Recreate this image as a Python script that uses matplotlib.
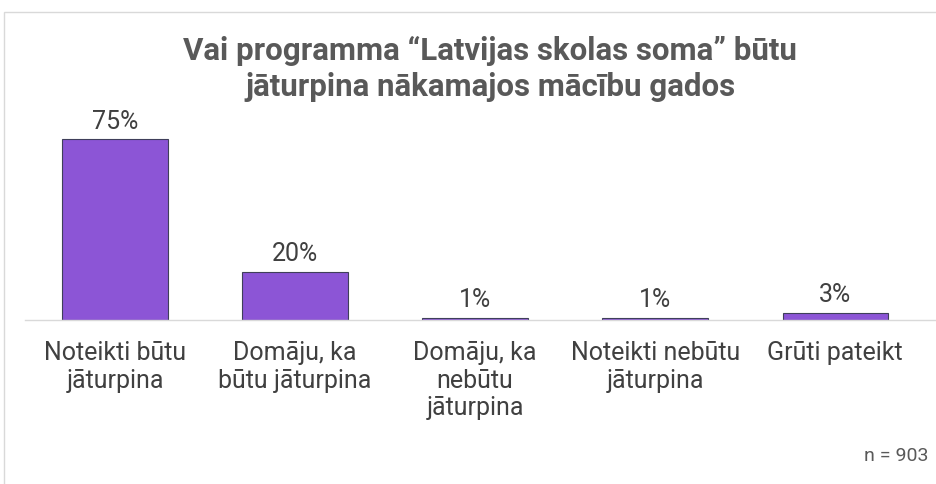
import matplotlib.pyplot as plt
from matplotlib.patches import Rectangle

categories = ["Noteikti būtu\njāturpina", "Domāju, ka\nbūtu jāturpina", "Domāju, ka\nnebūtu\njāturpina",
              "Noteikti nebūtu\njāturpina", "Grūti pateikt"]
values = [75, 20, 1, 1, 3]
labels = ["75%", "20%", "1%", "1%", "3%"]

plt.rcParams['font.family'] = ['Roboto', 'DejaVu Sans']

W, H = 936, 484
fig = plt.figure(figsize=(W / 100, H / 100), dpi=100)

# light frame (top and left visible)
fig.patches.append(Rectangle((4 / W, -0.1), 1.2, (H - 12) / H + 0.1, transform=fig.transFigure,
                             fill=False, edgecolor='#d9d9d9', linewidth=1))

px_per = 2.41
top_px = 100
ax = fig.add_axes([25 / W, (H - 320) / H, (W - 25) / W, (320 - top_px) / H])
ax.set_ylim(0, (320 - top_px) / px_per)
ax.set_xlim(-0.5, 4.56)

x = range(len(values))
ax.bar(x, values, width=0.585, color='#8c55d6', edgecolor='#3f3f5a', linewidth=0.8, zorder=2)
for xi, v, t in zip(x, values, labels):
    ax.annotate(t, (xi, v), xytext=(0, 4), textcoords='offset points', ha='center', va='bottom',
                fontsize=18, color='#404040')

for s in ['top', 'right', 'left']:
    ax.spines[s].set_visible(False)
ax.spines['bottom'].set_color('#d9d9d9')
ax.spines['bottom'].set_linewidth(1)
ax.set_yticks([])
ax.set_xticks(list(x))
ax.set_xticklabels(categories, fontsize=18, color='#404040', linespacing=1.2)
ax.tick_params(axis='x', length=0, pad=15)

fig.text(490 / W, (H - 69) / H, "Vai programma “Latvijas skolas soma” būtu\njāturpina nākamajos mācību gados",
         ha='center', va='center', fontsize=22.5, fontweight='bold', color='#595959', linespacing=1.25)
fig.text(928 / W, (H - 456) / H, "n = 903", ha='right', va='center', fontsize=14, color='#595959')

fig.savefig('out.png', dpi=100)
